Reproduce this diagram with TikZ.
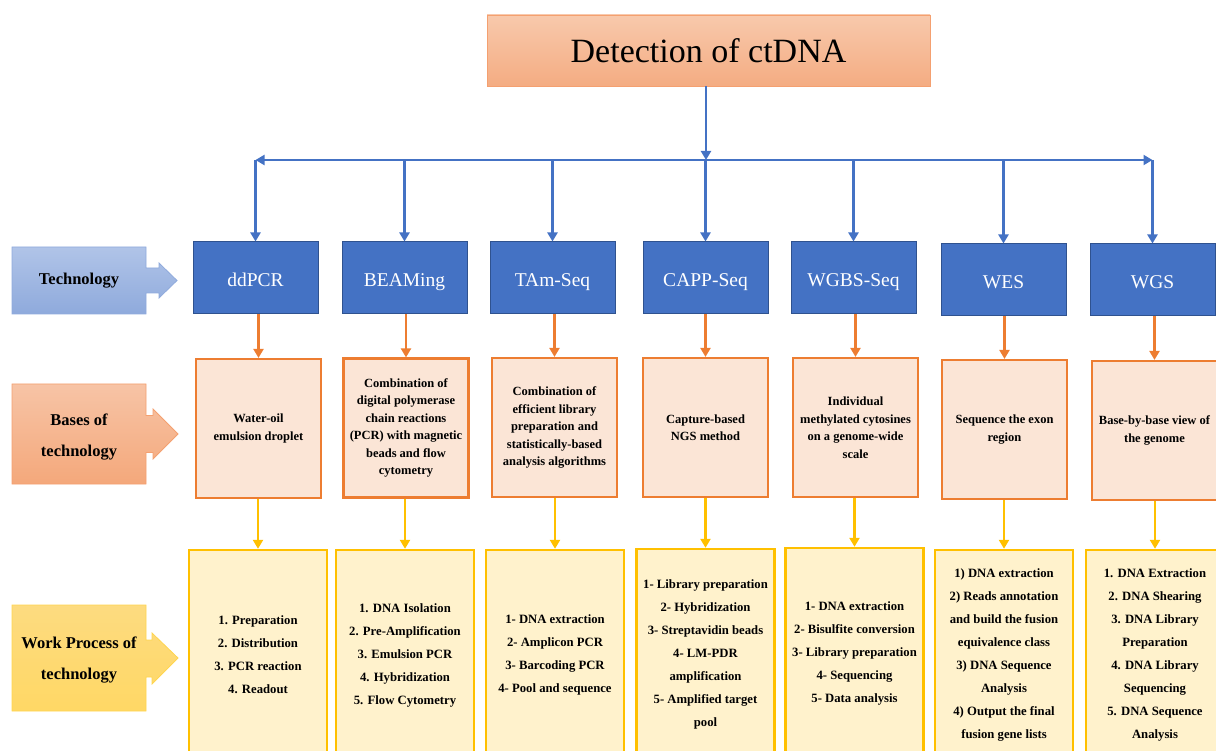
\documentclass[tikz,border=0pt]{standalone}
\usepackage{fontspec}
\setmainfont{Liberation Serif}
\usetikzlibrary{arrows.meta}
\definecolor{blueFill}{HTML}{4472C4}
\definecolor{blueLine}{HTML}{2F528F}
\definecolor{orangeLine}{HTML}{ED7D31}
\definecolor{orangeFill}{HTML}{FBE5D6}
\definecolor{yellowLine}{HTML}{FFC000}
\definecolor{yellowFill}{HTML}{FFF2CC}
\definecolor{titleTop}{HTML}{F8C9AC}
\definecolor{titleBot}{HTML}{F4AC82}
\definecolor{titleLine}{HTML}{F4A070}
\definecolor{techTop}{HTML}{B0C4E8}
\definecolor{techBot}{HTML}{8FAADC}
\definecolor{techLine}{HTML}{8FAADC}
\definecolor{baseTop}{HTML}{F7C4A6}
\definecolor{baseBot}{HTML}{F4A87B}
\definecolor{baseLine}{HTML}{F4A070}
\definecolor{workTop}{HTML}{FDDB80}
\definecolor{workBot}{HTML}{FFD865}
\definecolor{workLine}{HTML}{FFD54F}
\begin{document}
\begin{tikzpicture}[x=1pt,y=-1pt,
  titlebox/.style={draw=titleLine, line width=0.8pt, top color=titleTop, bottom color=titleBot,
    minimum width=443pt, minimum height=71pt, inner sep=0pt, font=\fontsize{34}{38}\selectfont},
  techbox/.style={draw=blueLine, line width=1pt, fill=blueFill, text=white, text height=22pt, text depth=4pt,
    minimum width=125pt, minimum height=72pt, inner sep=0pt, font=\fontsize{19.5}{22}\selectfont},
  basebox/.style={draw=orangeLine, line width=2.2pt, fill=orangeFill, minimum width=125pt,
    minimum height=139pt, inner sep=1pt, align=center, font=\bfseries\fontsize{12.5}{17.5}\selectfont},
  workbox/.style={draw=yellowLine, line width=2.4pt, fill=yellowFill, minimum width=138pt,
    minimum height=210pt, inner sep=1pt, align=center, font=\bfseries\fontsize{12.7}{23}\selectfont},
  labeltext/.style={align=center, inner sep=0pt, font=\bfseries\fontsize{16.5}{31}\selectfont},
  bluearrow/.style={draw=blueFill, line width=2.2pt, -{Triangle[length=9pt,width=10pt]}},
  orangearrow/.style={draw=orangeLine, line width=2.2pt, -{Triangle[length=9pt,width=10pt]}},
  yellowarrow/.style={draw=yellowLine, line width=2.2pt, -{Triangle[length=9pt,width=10pt]}}
]
\clip (0,0) rectangle (1216,751);
\useasboundingbox (0,0) rectangle (1216,751);

% left label arrows
\path[draw=techLine, line width=0.8pt, top color=techTop, bottom color=techBot]
  (12,247) -- (146,247) -- (146,268) -- (159,268) -- (159,263) -- (177,280.5) -- (159,298)
  -- (159,293) -- (146,293) -- (146,314) -- (12,314) -- cycle;
\node[labeltext] (labtech) at (79,281) {Technology};

\path[draw=baseLine, line width=0.8pt, top color=baseTop, bottom color=baseBot]
  (12,384) -- (146,384) -- (146,415.5) -- (153,415.5) -- (153,409) -- (178,434) -- (153,459)
  -- (153,452.5) -- (146,452.5) -- (146,484) -- (12,484) -- cycle;
\node[labeltext] (labbase) at (79,437) {Bases of\\technology};

\path[draw=workLine, line width=0.8pt, top color=workTop, bottom color=workBot]
  (12,605) -- (146,605) -- (146,640) -- (152,640) -- (152,633) -- (178,658) -- (152,684)
  -- (152,677) -- (146,677) -- (146,711) -- (12,711) -- cycle;
\node[labeltext] (labwork) at (79,660) {Work Process of\\technology};

% title
\node[titlebox] (title) at (708.5,50.5) {Detection of ctDNA};

% technology row
\node[techbox] (t1) at (255.5,278) {ddPCR};
\node[techbox] (t2) at (404.5,278) {BEAMing};
\node[techbox] (t3) at (552.5,278) {TAm-Seq};
\node[techbox] (t4) at (705.5,278) {CAPP-Seq};
\node[techbox] (t5) at (853.5,278) {WGBS-Seq};
\node[techbox] (t6) at (1003.5,280) {WES};
\node[techbox] (t7) at (1152.5,280) {WGS};

% bases row
\node[basebox] (b1) at (258.5,428.5) {Water-oil\\emulsion droplet};
\node[basebox] (b2) at (406,428) {Combination of\\digital polymerase\\chain reactions\\(PCR) with magnetic\\beads and flow\\cytometry};
\node[basebox] (b3) at (554.5,427.5) {Combination of\\efficient library\\preparation and\\statistically-based\\analysis algorithms};
\node[basebox] (b4) at (705.5,427.5) {Capture-based\\NGS method};
\node[basebox] (b5) at (855.5,427.5) {Individual\\methylated cytosines\\on a genome-wide\\scale};
\node[basebox] (b6) at (1004.5,429.5) {Sequence the exon\\region};
\node[basebox] (b7) at (1154.5,430.5) {Base-by-base view of\\the genome};

% work process row
\node[workbox] (w1) at (258,655) {1. Preparation\\2. Distribution\\3. PCR reaction\\4. Readout};
\node[workbox] (w2) at (405,655) {1. DNA Isolation\\2. Pre-Amplification\\3. Emulsion PCR\\4. Hybridization\\5. Flow Cytometry};
\node[workbox] (w3) at (555,655) {1- DNA extraction\\2- Amplicon PCR\\3- Barcoding PCR\\4- Pool and sequence};
\node[workbox] (w4) at (705.5,654) {1- Library preparation\\2- Hybridization\\3- Streptavidin beads\\4- LM-PDR\\amplification\\5- Amplified target\\pool};
\node[workbox] (w5) at (854.5,653) {1- DNA extraction\\2- Bisulfite conversion\\3- Library preparation\\4- Sequencing\\5- Data analysis};
\node[workbox] (w6) at (1004,655) {1) DNA extraction\\2) Reads annotation\\and build the fusion\\equivalence class\\3) DNA Sequence\\Analysis\\4) Output the final\\fusion gene lists};
\node[workbox] (w7) at (1155,655) {1. DNA Extraction\\2. DNA Shearing\\3. DNA Library\\Preparation\\4. DNA Library\\Sequencing\\5. DNA Sequence\\Analysis};

% blue connectors
\coordinate (hub) at (706,160);
\coordinate (hl) at (255.5,160);
\coordinate (hr) at (1152.5,160);
\draw[bluearrow] (title.south -| hub) -- (hub);
\draw[draw=blueFill, line width=2.2pt, {Triangle[length=9pt,width=10pt]}-{Triangle[length=9pt,width=10pt]}] (hl) -- (hr);
\foreach \t in {t1,t2,t3,t4,t5,t6,t7}{
  \draw[bluearrow] (\t.north |- hl) -- (\t.north);
}
% orange connectors
\foreach \t/\b in {t1/b1,t2/b2,t3/b3,t4/b4,t5/b5,t6/b6,t7/b7}{
  \draw[orangearrow] (\b.north |- \t.south) -- (\b.north);
}
% yellow connectors
\foreach \b/\w in {b1/w1,b2/w2,b3/w3,b4/w4,b5/w5,b6/w6,b7/w7}{
  \draw[yellowarrow] (\w.north |- \b.south) -- (\w.north);
}
\end{tikzpicture}
\end{document}
